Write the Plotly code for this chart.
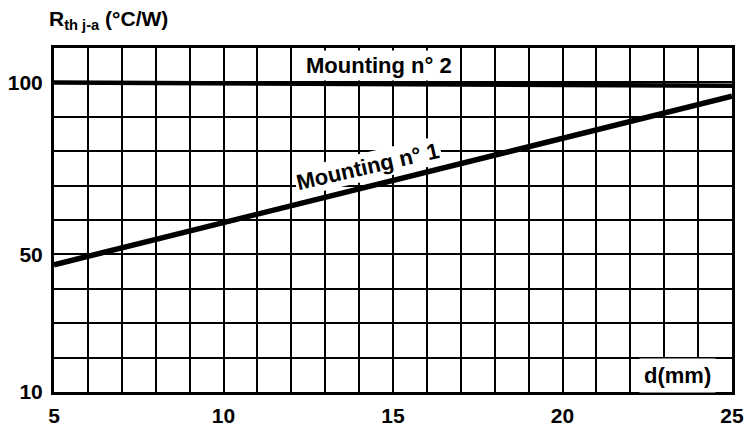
import plotly.graph_objects as go

# ---- data ----
d_mm = [5, 25]
mounting_1 = [47, 96]      # Rth j-a (°C/W), Mounting n° 1
mounting_2 = [100, 99]     # Rth j-a (°C/W), Mounting n° 2

x_tick_vals = [5, 10, 15, 20, 25]
x_tick_text = ["5", "10", "15", "20", "25"]
y_tick_vals = [10, 50, 100]
y_tick_text = ["10", "50", "100"]

FONT = "Liberation Sans, Arial, Helvetica, sans-serif"

fig = go.Figure()
fig.add_trace(go.Scatter(x=d_mm, y=mounting_2, mode="lines",
                         line=dict(color="black", width=4.5), showlegend=False))
fig.add_trace(go.Scatter(x=d_mm, y=mounting_1, mode="lines",
                         line=dict(color="black", width=5.5), showlegend=False))

axis_common = dict(showgrid=True, gridcolor="black", gridwidth=2.2,
                   showline=True, linecolor="black", linewidth=3, mirror=True,
                   ticks="", zeroline=False, tickmode="array", automargin=False,
                   tickfont=dict(family=FONT, size=21, color="black", weight="bold"))

fig.update_xaxes(range=[5, 25], tickvals=x_tick_vals, ticktext=x_tick_text,
                 ticklabelstandoff=3,
                 minor=dict(tick0=5, dtick=1, showgrid=True, gridcolor="black",
                            gridwidth=2.2, ticks=""),
                 **axis_common)
fig.update_yaxes(range=[10, 110], tickvals=y_tick_vals, ticktext=y_tick_text,
                 ticklabelstandoff=4,
                 minor=dict(tick0=10, dtick=10, showgrid=True, gridcolor="black",
                            gridwidth=2.2, ticks=""),
                 **axis_common)

ann_font = dict(family=FONT, size=22, color="black", weight="bold")
annotations = [
    dict(x=14.6, y=104.8, xref="x", yref="y", text="Mounting n° 2", showarrow=False,
         font=ann_font, bgcolor="white", borderpad=2),
    dict(x=14.25, y=75.5, xref="x", yref="y", text="Mounting n° 1", showarrow=False,
         textangle=-13, font=ann_font, bgcolor="white", borderpad=1),
    dict(x=23.4, y=14.9, xref="x", yref="y", text="d(mm)", showarrow=False,
         font=ann_font, bgcolor="white", borderpad=4),
    dict(x=-0.0103, y=1.081, xref="paper", yref="paper", xanchor="left", yanchor="middle",
         text="R<sub>th j-a</sub> (°C/W)", showarrow=False,
         font=dict(family=FONT, size=21, color="black", weight="bold")),
]

fig.update_layout(width=744, height=429, margin=dict(l=54, r=12, t=48, b=37),
                  paper_bgcolor="white", plot_bgcolor="white",
                  annotations=annotations, showlegend=False)

fig.write_html("out.html", config={"displayModeBar": False},
               post_script="document.body.style.margin='0';document.body.style.overflow='hidden';")
